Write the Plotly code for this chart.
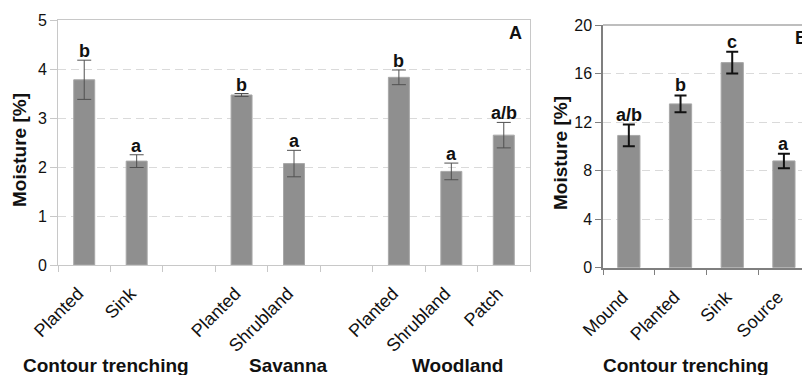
import plotly.graph_objects as go

# ---------------- data ----------------
a_labels = ["Planted", "Sink", "", "Planted", "Shrubland", "", "Planted", "Shrubland", "Patch"]
a_vals = [3.78, 2.12, 3.47, 2.07, 3.83, 1.91, 2.65]
a_err = [0.40, 0.13, 0.03, 0.27, 0.15, 0.17, 0.26]
a_letters = ["b", "a", "b", "a", "b", "a", "a/b"]
a_groups = ["Contour trenching", "Savanna", "Woodland"]

b_labels = ["Mound", "Planted", "Sink", "Source"]
b_vals = [10.9, 13.5, 16.9, 8.8]
b_err = [0.9, 0.7, 0.9, 0.6]
b_letters = ["a/b", "b", "c", "a"]
b_groups = ["Contour trenching"]

FONT = "Liberation Sans, Arial, sans-serif"
W, H = 802, 375
a_pos = [i for i, l in enumerate(a_labels) if l]
b_pos = list(range(len(b_labels)))

fig = go.Figure()
fig.add_trace(go.Bar(
    x=a_pos, y=a_vals, width=0.4, xaxis="x", yaxis="y",
    marker=dict(color="#8f8f8f", line=dict(color="#a8a8a8", width=1)),
    error_y=dict(type="data", array=a_err, color="#505050", thickness=1, width=7),
))
fig.add_trace(go.Bar(
    x=b_pos, y=b_vals, width=0.43, xaxis="x2", yaxis="y2",
    marker=dict(color="#8f8f8f", line=dict(color="#a8a8a8", width=1)),
    error_y=dict(type="data", array=b_err, color="#111111", thickness=2, width=6),
))

ann = []
for p, v, e, t in zip(a_pos, a_vals, a_err, a_letters):
    ann.append(dict(x=p, y=v + e, xref="x", yref="y", text="<b>%s</b>" % t, showarrow=False,
                    yanchor="bottom", yshift=-3, font=dict(size=18, family=FONT, color="#111")))
for p, v, e, t in zip(b_pos, b_vals, b_err, b_letters):
    ann.append(dict(x=p, y=v + e, xref="x2", yref="y2", text="<b>%s</b>" % t, showarrow=False,
                    yanchor="bottom", yshift=-2, font=dict(size=18, family=FONT, color="#111")))

for txt, xp in zip(a_groups + b_groups, [106, 288, 458, 686]):
    ann.append(dict(x=xp / W, y=(H - 365) / H, xref="paper", yref="paper", text="<b>%s</b>" % txt,
                    showarrow=False, xanchor="center", yanchor="middle",
                    font=dict(size=19, family=FONT, color="#111")))

for xp, yp in [(19, 150), (560, 153)]:
    ann.append(dict(x=xp / W, y=(H - yp) / H, xref="paper", yref="paper", text="<b>Moisture [%]</b>",
                    textangle=-90, showarrow=False, xanchor="center", yanchor="middle",
                    font=dict(size=19, family=FONT, color="#111")))

ann.append(dict(x=515 / W, y=(H - 33) / H, xref="paper", yref="paper", text="<b>A</b>",
                showarrow=False, xanchor="center", yanchor="middle",
                font=dict(size=18, family=FONT, color="#111")))
ann.append(dict(x=793 / W, y=(H - 38) / H, xref="paper", yref="paper", text="<b>B</b>",
                showarrow=False, xanchor="left", yanchor="middle",
                font=dict(size=18, family=FONT, color="#111")))

light = "#c8c8c8"
dark = "#7f7f7f"
grid = dict(showgrid=True, gridcolor="#dadada", griddash="8px,5px", gridwidth=1)
xtick = dict(ticks="", tickangle=-45, tickfont=dict(size=18), ticklabelstandoff=10, ticklabelshift=-6)

fig.update_layout(
    width=W, height=H, margin=dict(l=0, r=0, t=0, b=0, autoexpand=False),
    paper_bgcolor="white", plot_bgcolor="white", showlegend=False,
    font=dict(family=FONT, size=16, color="#111"),
    annotations=ann,
    xaxis=dict(domain=[58 / W, 530 / W], range=[-0.5, len(a_labels) - 0.5], anchor="y", automargin=False,
               tickmode="array", tickvals=list(range(len(a_labels))), ticktext=a_labels, **xtick,
               showline=True, linecolor=light, linewidth=1, mirror=True, showgrid=False, zeroline=False,
               minor=dict(tickmode="array", tickvals=[i - 0.5 for i in range(len(a_labels) + 1)],
                          ticks="outside", ticklen=6, tickcolor=light, showgrid=False)),
    yaxis=dict(domain=[(H - 265) / H, (H - 20) / H], range=[0, 5], dtick=1, anchor="x", automargin=False,
               ticks="outside", ticklen=7, tickcolor=light, tickfont=dict(size=16),
               showline=True, linecolor=light, linewidth=1, mirror=True, zeroline=False, **grid),
    xaxis2=dict(domain=[603 / W, 1.0], range=[-0.5, 3.35], anchor="y2", automargin=False,
                tickmode="array", tickvals=b_pos, ticktext=b_labels, **xtick,
                showline=True, linecolor=dark, linewidth=1.5, showgrid=False, zeroline=False,
                minor=dict(tickmode="array", tickvals=[i - 0.5 for i in range(len(b_labels) + 1)],
                           ticks="outside", ticklen=6, tickcolor=dark, showgrid=False)),
    yaxis2=dict(domain=[(H - 267.7) / H, (H - 25) / H], range=[0, 20], dtick=4, anchor="x2", automargin=False,
                ticks="outside", ticklen=6, tickcolor=dark, tickfont=dict(size=16),
                showline=True, linecolor=dark, linewidth=1.5, zeroline=False, **grid),
    shapes=[dict(type="line", xref="x2 domain", yref="y2 domain", x0=0, x1=1, y0=1, y1=1,
                 line=dict(color="#a8a8a8", width=1.5))],
)

fig.write_html("out.html", config={"displayModeBar": False},
               post_script="document.body.style.margin='0';document.body.style.overflow='hidden';")
